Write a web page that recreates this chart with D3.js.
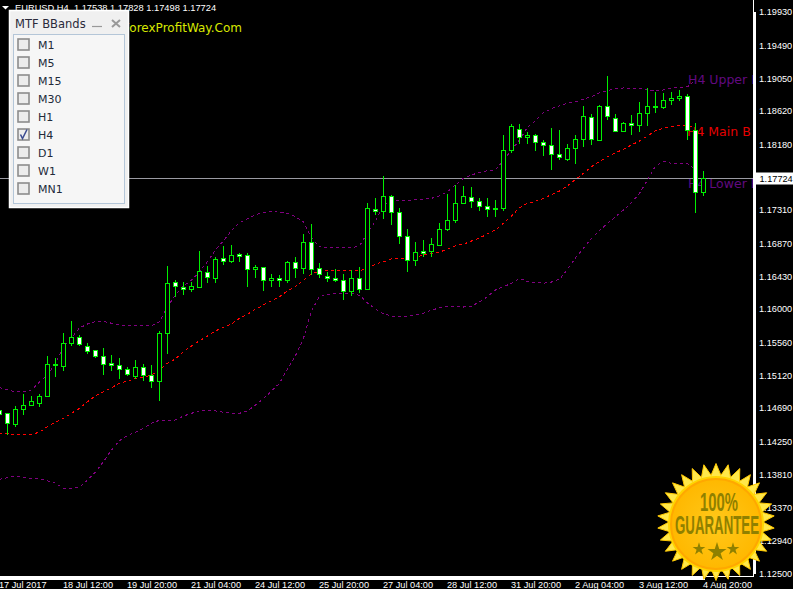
<!DOCTYPE html>
<html><head><meta charset="utf-8">
<style>html,body{margin:0;padding:0;background:#000;overflow:hidden}svg{display:block}</style>
<script src="https://cdn.jsdelivr.net/npm/d3@7"></script></head><body>
<svg id="c" width="793" height="589"></svg>
<script>
const symbolTitle="EURUSD,H4  1.17538 1.17828 1.17498 1.17724";
const siteName="ForexProfitWay.Com";
const lastPrice=1.17724;
const priceTicks=[1.19930,1.19490,1.19050,1.18620,1.18180,1.17310,1.16870,1.16430,1.16000,1.15560,1.15120,1.14690,1.14250,1.13810,1.13370,1.12940,1.12500];
const timeTickBars=[0,8,16,24,32,40,48,56,64,72,80,88];
const timeTickLabels=["17 Jul 2017","18 Jul 12:00","19 Jul 20:00","21 Jul 04:00","24 Jul 12:00","25 Jul 20:00","27 Jul 04:00","28 Jul 12:00","31 Jul 20:00","2 Aug 04:00","3 Aug 12:00","4 Aug 20:00"];
const timeframes=["M1","M5","M15","M30","H1","H4","D1","W1","MN1"];
const checkedFrame="H4";
const opens=[1.14649,1.14609,1.14467,1.14666,1.14719,1.14745,1.14838,1.15267,1.15235,1.15545,1.15624,1.15505,1.15452,1.15373,1.15271,1.15254,1.15201,1.15103,1.15227,1.15121,1.15036,1.15677,1.16352,1.16277,1.16254,1.16281,1.16485,1.16400,1.16661,1.16625,1.16714,1.16710,1.16519,1.16551,1.16373,1.16405,1.16373,1.16617,1.16532,1.16882,1.16537,1.16432,1.16405,1.16379,1.16228,1.16405,1.16254,1.17318,1.17292,1.17491,1.17279,1.16961,1.16638,1.16762,1.16757,1.16837,1.17048,1.17168,1.17393,1.17477,1.17424,1.17358,1.17332,1.17326,1.18094,1.18377,1.18266,1.18298,1.18205,1.18166,1.18047,1.17975,1.18126,1.18240,1.18536,1.18232,1.18682,1.18518,1.18351,1.18457,1.18430,1.18589,1.18682,1.18669,1.18761,1.18788,1.18814,1.18359,1.17538];
const highs=[1.14649,1.14635,1.14715,1.14874,1.14847,1.14874,1.15377,1.15350,1.15681,1.15840,1.15655,1.15558,1.15456,1.15483,1.15390,1.15363,1.15231,1.15324,1.15271,1.15258,1.15708,1.16581,1.16383,1.16356,1.16369,1.16767,1.16581,1.16700,1.16833,1.16846,1.16753,1.16753,1.16594,1.16555,1.16475,1.16449,1.16634,1.16687,1.16992,1.17124,1.16608,1.16489,1.16541,1.16462,1.16515,1.16555,1.17402,1.17481,1.17772,1.17508,1.17336,1.17058,1.16886,1.16925,1.16939,1.17150,1.17534,1.17640,1.17627,1.17614,1.17468,1.17481,1.17442,1.18315,1.18448,1.18448,1.18342,1.18328,1.18236,1.18395,1.18381,1.18183,1.18302,1.18686,1.18593,1.18712,1.19096,1.18580,1.18487,1.18567,1.18739,1.18937,1.18884,1.18858,1.18884,1.18898,1.18845,1.18461,1.17828];
const lows=[1.14596,1.14331,1.14441,1.14596,1.14719,1.14702,1.14838,1.15099,1.15178,1.15522,1.15509,1.15416,1.15354,1.15138,1.15191,1.15085,1.15112,1.15076,1.15046,1.14953,1.14781,1.15403,1.16158,1.16184,1.16224,1.16281,1.16343,1.16343,1.16594,1.16608,1.16621,1.16290,1.16409,1.16250,1.16290,1.16290,1.16343,1.16422,1.16462,1.16449,1.16409,1.16369,1.16369,1.16118,1.16171,1.16211,1.16254,1.17243,1.17203,1.17111,1.16859,1.16489,1.16581,1.16700,1.16700,1.16837,1.17035,1.17137,1.17393,1.17336,1.17296,1.17217,1.17217,1.17309,1.18064,1.18183,1.18183,1.18103,1.18037,1.17839,1.17984,1.17958,1.17918,1.18156,1.18170,1.18232,1.18501,1.18351,1.18342,1.18302,1.18342,1.18434,1.18606,1.18646,1.18712,1.18752,1.18236,1.17274,1.17498];
const closes=[1.14596,1.14480,1.14671,1.14724,1.14777,1.14843,1.15267,1.15248,1.15545,1.15624,1.15526,1.15434,1.15367,1.15261,1.15248,1.15195,1.15129,1.15227,1.15116,1.15036,1.15677,1.16339,1.16294,1.16254,1.16290,1.16489,1.16413,1.16657,1.16625,1.16710,1.16700,1.16524,1.16551,1.16373,1.16405,1.16373,1.16617,1.16532,1.16882,1.16519,1.16453,1.16400,1.16373,1.16228,1.16405,1.16254,1.17332,1.17292,1.17491,1.17279,1.16956,1.16638,1.16749,1.16736,1.16855,1.17054,1.17173,1.17398,1.17491,1.17424,1.17353,1.17313,1.17313,1.18100,1.18417,1.18266,1.18298,1.18200,1.18160,1.18047,1.18007,1.18126,1.18245,1.18549,1.18245,1.18682,1.18549,1.18351,1.18457,1.18430,1.18589,1.18682,1.18669,1.18761,1.18788,1.18814,1.18364,1.17544,1.17724];
const upperBand=[1.14957,1.14927,1.14900,1.14904,1.14927,1.15033,1.15125,1.15284,1.15496,1.15615,1.15747,1.15800,1.15831,1.15836,1.15810,1.15787,1.15778,1.15783,1.15783,1.15778,1.15831,1.16029,1.16184,1.16303,1.16383,1.16492,1.16625,1.16780,1.16903,1.17035,1.17141,1.17194,1.17247,1.17279,1.17292,1.17279,1.17265,1.17220,1.17154,1.16939,1.16823,1.16810,1.16810,1.16810,1.16810,1.16833,1.17005,1.17164,1.17375,1.17428,1.17432,1.17438,1.17442,1.17455,1.17464,1.17495,1.17552,1.17640,1.17729,1.17772,1.17808,1.17829,1.17839,1.17971,1.18103,1.18236,1.18404,1.18491,1.18597,1.18650,1.18690,1.18722,1.18743,1.18775,1.18809,1.18862,1.18888,1.18915,1.18924,1.18920,1.18915,1.18898,1.18888,1.18898,1.18920,1.18933,1.18941,1.19030];
const mainBand=[1.14353,1.14348,1.14331,1.14340,1.14340,1.14367,1.14441,1.14499,1.14552,1.14618,1.14684,1.14772,1.14847,1.14904,1.14957,1.15015,1.15046,1.15076,1.15095,1.15125,1.15191,1.15280,1.15337,1.15434,1.15509,1.15579,1.15641,1.15708,1.15756,1.15800,1.15876,1.15929,1.15995,1.16052,1.16109,1.16162,1.16241,1.16294,1.16383,1.16462,1.16502,1.16511,1.16511,1.16511,1.16511,1.16511,1.16524,1.16594,1.16621,1.16661,1.16670,1.16670,1.16687,1.16710,1.16736,1.16753,1.16789,1.16837,1.16855,1.16899,1.16939,1.16992,1.17045,1.17133,1.17230,1.17340,1.17398,1.17424,1.17464,1.17512,1.17561,1.17627,1.17713,1.17795,1.17882,1.17949,1.18015,1.18068,1.18113,1.18170,1.18223,1.18289,1.18359,1.18391,1.18412,1.18425,1.18425,1.18412];
const lowerBand=[1.13744,1.13766,1.13784,1.13771,1.13758,1.13752,1.13722,1.13692,1.13625,1.13625,1.13639,1.13735,1.13841,1.13977,1.14132,1.14255,1.14322,1.14367,1.14420,1.14486,1.14526,1.14520,1.14530,1.14582,1.14618,1.14649,1.14658,1.14649,1.14631,1.14618,1.14618,1.14649,1.14728,1.14811,1.14913,1.15015,1.15201,1.15381,1.15611,1.15976,1.16162,1.16193,1.16207,1.16201,1.16207,1.16180,1.16078,1.15999,1.15933,1.15906,1.15902,1.15906,1.15919,1.15942,1.15985,1.16012,1.16035,1.16035,1.16025,1.16038,1.16091,1.16162,1.16250,1.16294,1.16339,1.16405,1.16360,1.16352,1.16339,1.16356,1.16392,1.16524,1.16676,1.16802,1.16935,1.17035,1.17133,1.17220,1.17309,1.17406,1.17530,1.17706,1.17892,1.17954,1.17927,1.17927,1.17927,1.17839];

const svg=d3.select("#c");
const W=793,H=589,axisX=753,axisY=576;
const x=d3.scaleLinear().domain([0,88]).range([-0.5,703.5]);
const y=d3.scaleLinear().domain([1.125,1.1993]).range([573.3,12]);
const snap=v=>Math.round(v-0.5)+0.5;
const GREEN="#00f000";
svg.append("rect").attr("width",W).attr("height",H).attr("fill","#000");
const defs=svg.append("defs");
defs.append("clipPath").attr("id","plot").append("rect").attr("width",axisX).attr("height",axisY);
const grad=defs.append("radialGradient").attr("id","disc");
grad.append("stop").attr("offset","0").attr("stop-color","#ffc81a");
grad.append("stop").attr("offset","1").attr("stop-color","#ffb800");

const plot=svg.append("g").attr("clip-path","url(#plot)");
plot.append("line").attr("x1",0).attr("x2",axisX).attr("y1",snap(y(lastPrice))).attr("y2",snap(y(lastPrice)))
  .attr("stroke","#9a9aa2").attr("shape-rendering","crispEdges");
const tagFont="'DejaVu Sans',sans-serif";
[["H4 Upper B",688,84,"#620a80"],["H4 Main B",687,136,"#e60000"],["H4 Lower B",688,188,"#620a80"]].forEach(d=>{
  plot.append("text").text(d[0]).attr("x",d[1]).attr("y",d[2]).attr("fill",d[3]).attr("font-family",tagFont).attr("font-size",12.5);
});
plot.append("text").text(siteName).attr("x",242).attr("y",32).attr("text-anchor","end").attr("fill","#d8e800").attr("font-family",tagFont).attr("font-size",12);

const line=d3.line().x((d,i)=>x(i)).y(d=>y(d));
[[upperBand,"#800080"],[mainBand,"#ff0000"],[lowerBand,"#800080"]].forEach(b=>{
  plot.append("path").attr("d",line(b[0])).attr("fill","none").attr("stroke",b[1]).attr("stroke-width",1)
   .attr("stroke-dasharray","3 3").attr("shape-rendering","crispEdges");
});
const bars=d3.range(opens.length);
const cg=plot.append("g").attr("shape-rendering","crispEdges");
cg.selectAll("line").data(bars).join("line")
  .attr("x1",i=>snap(x(i))).attr("x2",i=>snap(x(i)))
  .attr("y1",i=>snap(y(highs[i]))).attr("y2",i=>snap(y(lows[i]))+0.5)
  .attr("stroke",GREEN);
cg.selectAll("rect").data(bars).join("rect")
  .attr("x",i=>snap(x(i))-2).attr("width",4)
  .attr("y",i=>snap(y(Math.max(opens[i],closes[i]))))
  .attr("height",i=>snap(y(Math.min(opens[i],closes[i])))-snap(y(Math.max(opens[i],closes[i]))))
  .attr("fill",i=>closes[i]<opens[i]?"#fff":"#000").attr("stroke",GREEN);

const axFont="'Liberation Sans',sans-serif";
const yAxis=d3.axisRight(y).tickValues(priceTicks).tickSize(3).tickPadding(3).tickFormat(d3.format(".5f"));
const yg=svg.append("g").attr("transform",`translate(${axisX},0)`).call(yAxis);
const xAxis=d3.axisBottom(x).tickValues(timeTickBars).tickSize(4).tickPadding(1).tickFormat((d,i)=>timeTickLabels[i]);
const xg=svg.append("g").attr("transform",`translate(0,${axisY})`).call(xAxis);
[yg,xg].forEach(g=>{
  g.attr("font-family",axFont).attr("font-size",9.2).attr("fill","#fff").attr("shape-rendering","crispEdges");
  g.selectAll("line").attr("stroke","#fff");
  g.select(".domain").attr("stroke","none");
  g.selectAll("text").attr("fill","#fff");
});
xg.selectAll("text").attr("text-anchor","start").attr("dx",-1);
svg.append("line").attr("x1",axisX+.5).attr("x2",axisX+.5).attr("y1",0).attr("y2",axisY+1).attr("stroke","#fff").attr("shape-rendering","crispEdges");
svg.append("line").attr("x1",0).attr("x2",axisX+1).attr("y1",axisY+.5).attr("y2",axisY+.5).attr("stroke","#fff").attr("shape-rendering","crispEdges");
// current price tag
svg.append("rect").attr("x",axisX+2).attr("y",snap(y(lastPrice))-6).attr("width",W-axisX-2).attr("height",12).attr("fill","#fff");
svg.append("text").text(d3.format(".5f")(lastPrice)).attr("x",759.5).attr("y",snap(y(lastPrice))+3.5).attr("fill","#000").attr("font-family",axFont).attr("font-size",9.2);

// header
svg.append("path").attr("d","M2,6 L9,6 L5.5,9.5 Z").attr("fill","#fff");
svg.append("text").text(symbolTitle).attr("x",15).attr("y",11).attr("fill","#fff").attr("font-family",axFont).attr("font-size",9.3).style("white-space","pre");

// panel
const panel=svg.append("g");
panel.append("rect").attr("x",9.5).attr("y",10.5).attr("width",119).attr("height",197).attr("fill","#f0f0f0").attr("stroke","#fff").attr("stroke-width",1.5);
panel.append("text").text("MTF BBands").attr("x",15).attr("y",28).attr("fill","#2a2a3a").attr("font-family",tagFont).attr("font-size",11.5);
panel.append("line").attr("x1",92).attr("x2",102).attr("y1",26.5).attr("y2",26.5).attr("stroke","#999").attr("stroke-width",1.2);
panel.append("path").attr("d","M112,20 L120,27 M120,20 L112,27").attr("stroke","#999").attr("stroke-width",2);
panel.append("rect").attr("x",13.5).attr("y",34.5).attr("width",111).attr("height",169).attr("fill","#f6f6f6").attr("stroke","#b4c6d8");
const rowY=d3.scalePoint().domain(timeframes).range([44.5,188.5]);
const rows=panel.selectAll("g.row").data(timeframes).join("g").attr("class","row").attr("transform",d=>`translate(0,${rowY(d)})`);
rows.append("rect").attr("x",18).attr("y",-5.5).attr("width",11).attr("height",11).attr("fill","#ececec").attr("stroke","#8c8c8c").attr("stroke-width",1.6);
rows.append("text").text(d=>d).attr("x",38).attr("y",4.5).attr("fill","#222a3a").attr("font-family",tagFont).attr("font-size",11);
rows.filter(d=>d===checkedFrame).append("path").attr("d","M20.5,0 L22.5,4 L27,-5").attr("fill","none").attr("stroke","#3a4a90").attr("stroke-width",1.5);

// badge
const bx=716,by=522;
const badge=svg.append("g").attr("transform",`translate(${bx},${by})`);
const spikes=30,starPts=[];
for(let k=0;k<spikes*2;k++){const r=k%2?47:58.5,a=k*Math.PI/spikes-Math.PI/2;starPts.push([r*Math.cos(a),r*Math.sin(a)]);}
badge.append("polygon").attr("points",starPts.map(p=>p.join(",")).join(" ")).attr("fill","#ffe84a").attr("stroke","#ffc800").attr("stroke-width",1);
badge.append("circle").attr("cx",0).attr("cy",2).attr("r",48).attr("fill","#ffd400");
badge.append("circle").attr("cx",0).attr("cy",2).attr("r",45).attr("fill","url(#disc)").attr("stroke","#ffa800").attr("stroke-width",2);
const olive="#8f8000";
badge.append("text").text("100%").attr("x",3).attr("y",-11).attr("text-anchor","middle").attr("fill",olive).attr("font-family",axFont).attr("font-weight","bold").attr("font-size",26).attr("textLength",38).attr("lengthAdjust","spacingAndGlyphs");
badge.append("text").text("GUARANTEE").attr("x",1).attr("y",12).attr("text-anchor","middle").attr("fill",olive).attr("font-family",axFont).attr("font-weight","bold").attr("font-size",26).attr("textLength",84).attr("lengthAdjust","spacingAndGlyphs");
const star=d3.symbol().type(d3.symbolStar);
[[-17,27,50],[1,30,112],[17,27,50]].forEach(s=>{
  badge.append("path").attr("d",star.size(s[2])()).attr("transform",`translate(${s[0]},${s[1]})`).attr("fill",olive);
});
</script></body></html>
